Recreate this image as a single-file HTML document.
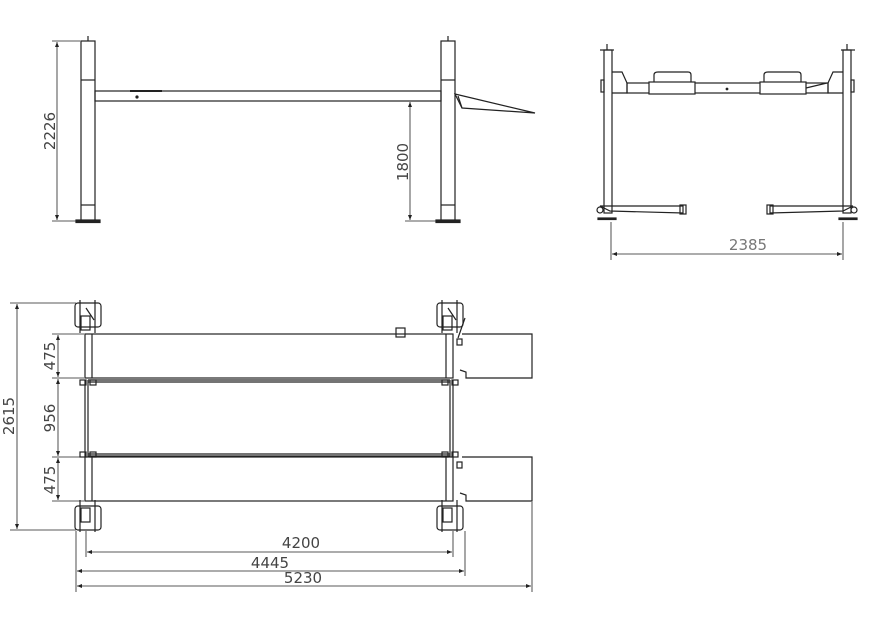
<!DOCTYPE html>
<html><head><meta charset="utf-8"><style>
html,body{margin:0;padding:0;background:#fff;}
svg{display:block;}
text{font-family:"DejaVu Sans","Liberation Sans",sans-serif;fill:#444;font-size:15px;}
</style></head><body>
<svg width="892" height="627" viewBox="0 0 892 627" xmlns="http://www.w3.org/2000/svg">
<defs>
<marker id="a" viewBox="0 0 10 10" refX="10" refY="5" markerWidth="8" markerHeight="5" orient="auto-start-reverse" markerUnits="userSpaceOnUse"><path d="M0,1 L10,5 L0,9 z" fill="#222"/></marker>
</defs>
<g stroke="#222" stroke-width="1.2" fill="none">
<!-- SIDE VIEW -->
<rect x="81" y="41" width="14" height="180"/>
<line x1="81" y1="80" x2="95" y2="80"/>
<line x1="81" y1="205" x2="95" y2="205"/>
<rect x="76" y="220" width="24" height="2.5" fill="#222"/>
<line x1="88" y1="36" x2="88" y2="41"/>
<rect x="441" y="41" width="14" height="180"/>
<line x1="441" y1="80" x2="455" y2="80"/>
<line x1="441" y1="205" x2="455" y2="205"/>
<rect x="436" y="220" width="24" height="2.5" fill="#222"/>
<line x1="448" y1="36" x2="448" y2="41"/>
<rect x="95" y="91" width="346" height="10"/>
<line x1="130" y1="91" x2="162" y2="91" stroke-width="2"/>
<circle cx="137" cy="97" r="1" fill="#222"/>
<path d="M455,94 L535,113 L462,108 Z"/>
<line x1="458" y1="96" x2="462" y2="108"/>
<!-- dims side -->
<line x1="52" y1="41" x2="80" y2="41" stroke-width="0.8"/>
<line x1="52" y1="221" x2="76" y2="221" stroke-width="0.8"/>
<line x1="57" y1="42" x2="57" y2="220" marker-start="url(#a)" marker-end="url(#a)" stroke-width="0.8"/>
<line x1="405" y1="221" x2="436" y2="221" stroke-width="0.8"/>
<line x1="410" y1="102" x2="410" y2="220" marker-start="url(#a)" marker-end="url(#a)" stroke-width="0.8"/>

<!-- FRONT VIEW -->
<rect x="604" y="50" width="8" height="163"/>
<rect x="843" y="50" width="8" height="163"/>
<line x1="600" y1="50" x2="614" y2="50"/><line x1="607" y1="44" x2="607" y2="50"/>
<line x1="841" y1="50" x2="855" y2="50"/><line x1="847" y1="44" x2="847" y2="50"/>
<rect x="598" y="218" width="18" height="1.5" fill="#222"/>
<rect x="839" y="218" width="18" height="1.5" fill="#222"/>
<rect x="601" y="80" width="3" height="12"/>
<rect x="851" y="80" width="3" height="12"/>
<path d="M612,72 L622,72 L627,83 L627,93 L612,93"/>
<path d="M843,72 L833,72 L828,83 L828,93 L843,93"/>
<rect x="627" y="83" width="201" height="10"/>
<rect x="649" y="82" width="46" height="12" fill="#fff"/>
<rect x="760" y="82" width="46" height="12" fill="#fff"/>
<path d="M654,82 L654,75 Q654,72 658,72 L688,72 Q691,72 691,75 L691,82"/>
<path d="M764,82 L764,75 Q764,72 768,72 L798,72 Q801,72 801,75 L801,82"/>
<line x1="806" y1="88" x2="827" y2="83"/>
<circle cx="727" cy="89" r="0.8" fill="#222"/>
<path d="M600,206 L683,206 L683,213 L610,211 Z"/>
<circle cx="600" cy="210" r="3" fill="#fff"/>
<rect x="680" y="205" width="6" height="9"/>
<path d="M853,206 L770,206 L770,213 L843,211 Z"/>
<circle cx="854" cy="210" r="3" fill="#fff"/>
<rect x="767" y="205" width="6" height="9"/>
<line x1="611" y1="222" x2="611" y2="260" stroke-width="0.8"/>
<line x1="843" y1="222" x2="843" y2="260" stroke-width="0.8"/>
<line x1="612" y1="254" x2="842" y2="254" marker-start="url(#a)" marker-end="url(#a)" stroke-width="0.8"/>

<!-- TOP VIEW -->
<g>
<rect x="75" y="303" width="26" height="24" rx="3"/>
<rect x="437" y="303" width="26" height="24" rx="3"/>
<rect x="75" y="506" width="26" height="24" rx="3"/>
<rect x="437" y="506" width="26" height="24" rx="3"/>
<rect x="81" y="316" width="9" height="14"/><rect x="443" y="316" width="9" height="14"/>
<rect x="81" y="508" width="9" height="14"/><rect x="443" y="508" width="9" height="14"/>
<line x1="80" y1="300" x2="80" y2="333"/><line x1="95" y1="300" x2="95" y2="333"/>
<line x1="442" y1="300" x2="442" y2="333"/><line x1="457" y1="300" x2="457" y2="333"/>
<line x1="80" y1="500" x2="80" y2="532"/><line x1="95" y1="500" x2="95" y2="532"/>
<line x1="442" y1="500" x2="442" y2="532"/><line x1="457" y1="500" x2="457" y2="532"/>
<line x1="86" y1="308" x2="94" y2="320"/><line x1="448" y1="308" x2="456" y2="320"/>
<line x1="465" y1="318" x2="458" y2="338"/>
</g>
<rect x="85" y="334" width="368" height="44"/>
<rect x="85" y="457" width="368" height="44"/>
<line x1="92" y1="334" x2="92" y2="378"/><line x1="446" y1="334" x2="446" y2="378"/>
<line x1="92" y1="457" x2="92" y2="501"/><line x1="446" y1="457" x2="446" y2="501"/>
<line x1="88" y1="380" x2="450" y2="380"/><line x1="88" y1="382" x2="450" y2="382"/>
<line x1="88" y1="454" x2="450" y2="454"/><line x1="88" y1="456" x2="450" y2="456"/>
<line x1="85" y1="380" x2="85" y2="457"/><line x1="88" y1="380" x2="88" y2="457"/>
<line x1="450" y1="380" x2="450" y2="457"/><line x1="453" y1="380" x2="453" y2="457"/>
<rect x="80" y="380" width="6" height="5"/><rect x="90" y="380" width="6" height="5"/>
<rect x="80" y="452" width="6" height="5"/><rect x="90" y="452" width="6" height="5"/>
<rect x="442" y="380" width="6" height="5"/><rect x="452" y="380" width="6" height="5"/>
<rect x="442" y="452" width="6" height="5"/><rect x="452" y="452" width="6" height="5"/>
<rect x="396" y="328" width="9" height="9"/>
<path d="M462,334 L532,334 L532,378 L466,378 L466,372 L460,370"/>
<path d="M462,457 L532,457 L532,501 L466,501 L466,495 L460,493"/>
<rect x="457" y="339" width="5" height="6"/><rect x="457" y="462" width="5" height="6"/>
<!-- dims top -->
<line x1="10" y1="303" x2="76" y2="303" stroke-width="0.8"/>
<line x1="10" y1="530" x2="76" y2="530" stroke-width="0.8"/>
<line x1="17" y1="304" x2="17" y2="529" marker-start="url(#a)" marker-end="url(#a)" stroke-width="0.8"/>
<line x1="52" y1="334" x2="84" y2="334" stroke-width="0.8"/>
<line x1="52" y1="378" x2="84" y2="378" stroke-width="0.8"/>
<line x1="52" y1="457" x2="84" y2="457" stroke-width="0.8"/>
<line x1="52" y1="501" x2="84" y2="501" stroke-width="0.8"/>
<line x1="58" y1="335" x2="58" y2="377" marker-start="url(#a)" marker-end="url(#a)" stroke-width="0.8"/>
<line x1="58" y1="379" x2="58" y2="456" marker-start="url(#a)" marker-end="url(#a)" stroke-width="0.8"/>
<line x1="58" y1="458" x2="58" y2="500" marker-start="url(#a)" marker-end="url(#a)" stroke-width="0.8"/>
<line x1="76" y1="531" x2="76" y2="592" stroke-width="0.8"/>
<line x1="86" y1="531" x2="86" y2="557" stroke-width="0.8"/>
<line x1="453" y1="531" x2="453" y2="557" stroke-width="0.8"/>
<line x1="465" y1="531" x2="465" y2="576" stroke-width="0.8"/>
<line x1="532" y1="502" x2="532" y2="592" stroke-width="0.8"/>
<line x1="87" y1="552" x2="452" y2="552" marker-start="url(#a)" marker-end="url(#a)" stroke-width="0.8"/>
<line x1="77" y1="571" x2="464" y2="571" marker-start="url(#a)" marker-end="url(#a)" stroke-width="0.8"/>
<line x1="77" y1="586" x2="531" y2="586" marker-start="url(#a)" marker-end="url(#a)" stroke-width="0.8"/>
</g>
<text transform="translate(55,131) rotate(-90)" text-anchor="middle">2226</text>
<text transform="translate(408,162) rotate(-90)" text-anchor="middle">1800</text>
<text x="748" y="250" text-anchor="middle" style="fill:#777">2385</text>
<text transform="translate(14,416) rotate(-90)" text-anchor="middle">2615</text>
<text transform="translate(55,356) rotate(-90)" text-anchor="middle">475</text>
<text transform="translate(55,418) rotate(-90)" text-anchor="middle">956</text>
<text transform="translate(55,480) rotate(-90)" text-anchor="middle">475</text>
<text x="301" y="548" text-anchor="middle">4200</text>
<text x="270" y="568" text-anchor="middle">4445</text>
<text x="303" y="583" text-anchor="middle">5230</text>
</svg>
</body></html>
